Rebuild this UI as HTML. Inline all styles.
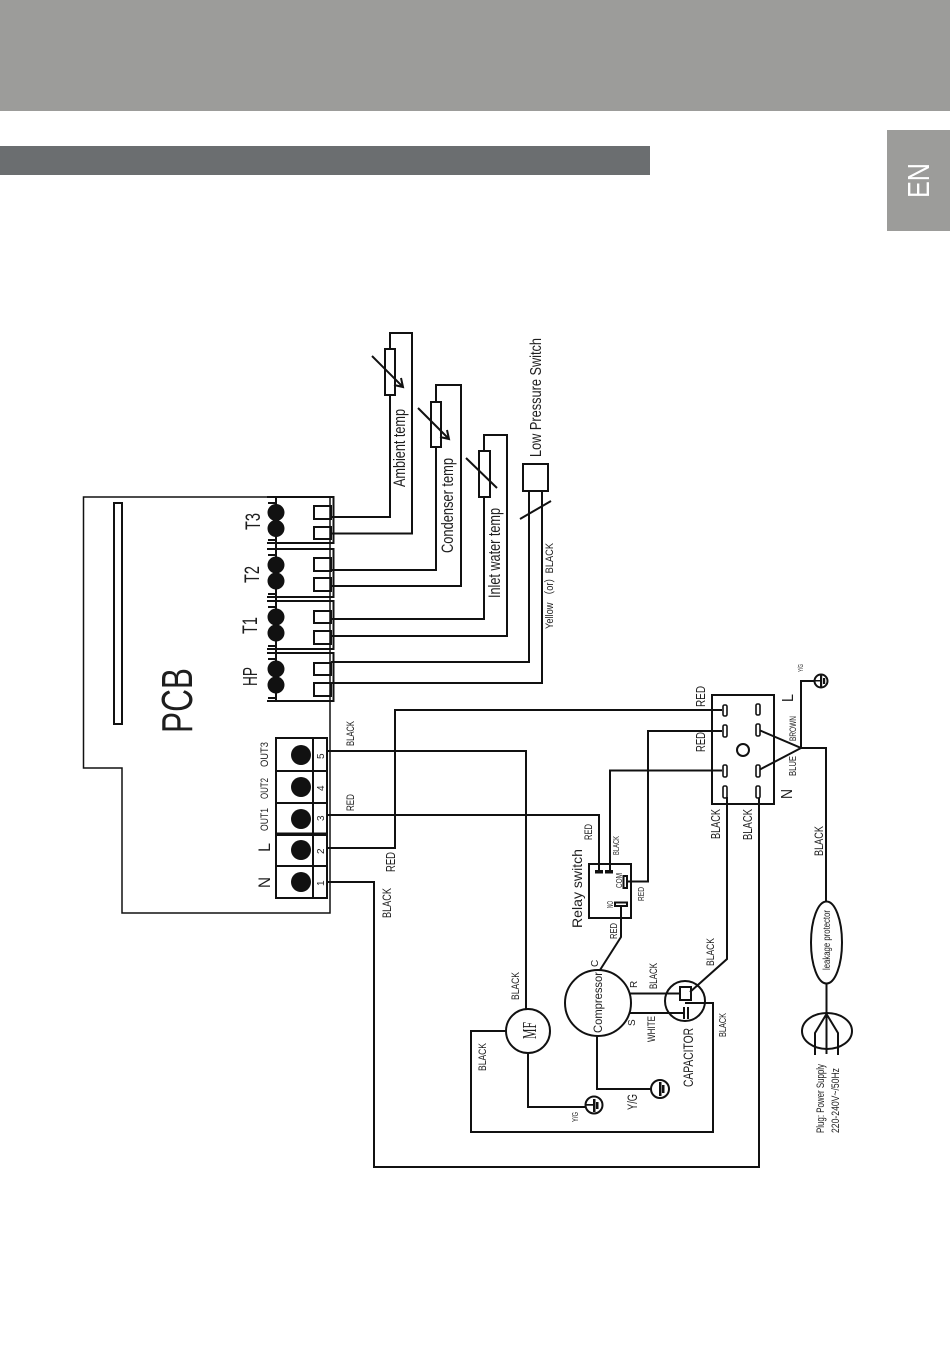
<!DOCTYPE html>
<html><head><meta charset="utf-8"><style>
html,body{margin:0;padding:0;background:#fff}
svg{display:block}
.w{fill:none;stroke:#111;stroke-width:2;stroke-linejoin:miter}
.p{fill:#fff;stroke:#111;stroke-width:1.6}
.t{fill:#111;stroke:none}
text{font-family:"Liberation Sans",sans-serif;fill:#1e1e1e}
</style></head><body>
<svg xmlns="http://www.w3.org/2000/svg" width="950" height="1348" viewBox="0 0 950 1348">
<rect width="950" height="1348" fill="#fff"/>
<rect x="0" y="0" width="950" height="111" fill="#9c9c9a"/>
<rect x="0" y="146" width="650" height="29" fill="#6b6e70"/>
<rect x="887" y="130" width="63" height="101" fill="#9c9c9a"/>
<text transform="translate(929,198) rotate(-90)" font-size="31" textLength="35" lengthAdjust="spacingAndGlyphs" style="fill:#fff">EN</text>

<g class="w">
<!-- PCB outline -->
<path d="M330,497H83.500V768H122V913H330V497" stroke-width="1.500"/>
<rect x="114" y="503" width="8" height="221"/>
<!-- sensor connectors -->
<path d="M267,497H333.500V543H267M268,503H276M268,540H276"/>
<path d="M267,549H333.500V597H267M268,555H276M268,594H276"/>
<path d="M267,601H333.500V649H267M268,607H276M268,646H276"/>
<path d="M267,653H333.500V701H267M268,659H276M268,698H276"/>
<path d="M276,497V701"/>
<rect x="314" y="506" width="17" height="13"/><rect x="314" y="527" width="17" height="12"/>
<rect x="314" y="558" width="17" height="13"/><rect x="314" y="578" width="17" height="13"/>
<rect x="314" y="611" width="17" height="12"/><rect x="314" y="631" width="17" height="13"/>
<rect x="314" y="663" width="17" height="12"/><rect x="314" y="683" width="17" height="13"/>
<!-- sensor wires -->
<path d="M331,517H390V333H412V533.500H331"/>
<rect x="385" y="349" width="10" height="46" fill="#fff"/>
<path d="M331,570H436V385H461V586H331"/>
<rect x="431" y="402" width="10" height="45" fill="#fff"/>
<path d="M331,619H484V435H507V636H331"/>
<rect x="479" y="451" width="11" height="46" fill="#fff"/>
<path d="M372,356L403,387M394,385L403,387L401,378"/>
<path d="M418,408L449,439M440,437L449,439L447,430"/>
<path d="M466,458L497,488"/>
<rect x="523" y="464" width="25" height="27"/>
<path d="M331,662H529V491M331,683H542V491"/>
<path d="M520,519L551,501"/>
<!-- terminal block -->
<rect x="276" y="738" width="51" height="160"/>
<path d="M276,771H327M276,803H327M276,833.500H327M276,835H327M276,866H327M313,738V898"/>
<!-- power wires -->
<path d="M327,751H526V1009"/>
<path d="M327,815H599V870"/>
<path d="M327,848H395V710H722"/>
<path d="M327,882H374V1167H759V797"/>
<path d="M722,731H648V881.500H626"/>
<path d="M722,770.500H610V870"/>
<!-- switch box -->
<rect x="712" y="695" width="62" height="109"/>
<circle cx="743" cy="750" r="6"/>
<path d="M759,730L801,748L759,770M801,748V681H815M801,748H826V902"/>
<path d="M826.500,983V1054M826.500,1014L815,1033V1055M826.500,1014L838,1033V1055"/>
<ellipse cx="826.500" cy="942.500" rx="15.500" ry="41"/>
<ellipse cx="827" cy="1031" rx="25" ry="18"/>
<path d="M727,797V959L690,992"/>
<!-- relay -->
<rect x="589" y="864" width="42" height="54"/>
<rect x="623.500" y="876" width="3.500" height="12"/>
<rect x="615" y="902.500" width="12" height="3.500"/>
<path d="M621,906V937L600,970"/>
<!-- compressor -->
<circle cx="598" cy="1003" r="33"/>
<circle cx="528" cy="1031" r="22"/>
<circle cx="685" cy="1001" r="20"/>
<rect x="680" y="987" width="11" height="13"/>
<path d="M630,993.500H680M629,1013H684M684,1007V1019M688,1007V1019"/>
<path d="M685,1003H713V1132H471V1031H506"/>
<path d="M528,1053V1107H586M597,1036V1089H651"/>
<!-- grounds -->
<circle cx="594" cy="1105" r="8.500"/>
<circle cx="660" cy="1089" r="9"/>
<circle cx="821" cy="681" r="6.500"/>
</g>
<g class="p">
<rect x="723" y="705" width="4" height="11" rx="1.500"/><rect x="723" y="725" width="4" height="12" rx="1.500"/>
<rect x="723" y="765" width="4" height="12" rx="1.500"/><rect x="723" y="786" width="4" height="12" rx="1.500"/>
<rect x="756" y="704" width="4" height="11" rx="1.500"/><rect x="756" y="724" width="4" height="12" rx="1.500"/>
<rect x="756" y="765" width="4" height="12" rx="1.500"/><rect x="756" y="786" width="4" height="12" rx="1.500"/>
</g>
<g class="t">
<circle cx="276" cy="512.500" r="8.500"/><circle cx="276" cy="528.500" r="8.500"/>
<circle cx="276" cy="565" r="8.500"/><circle cx="276" cy="581" r="8.500"/>
<circle cx="276" cy="617" r="8.500"/><circle cx="276" cy="633" r="8.500"/>
<circle cx="276" cy="669" r="8.500"/><circle cx="276" cy="685" r="8.500"/>
<circle cx="301" cy="755" r="10"/><circle cx="301" cy="787" r="10"/><circle cx="301" cy="819" r="10"/><circle cx="301" cy="850" r="10"/><circle cx="301" cy="882" r="10"/>
<rect x="595" y="870" width="8" height="3.500"/><rect x="605" y="870" width="8" height="3.500"/>
<rect x="593" y="1099" width="2.500" height="13"/><rect x="596" y="1102" width="2.500" height="7"/><rect x="586" y="1104" width="7" height="1.700"/>
<rect x="659" y="1082" width="2.500" height="14"/><rect x="662" y="1085" width="2.500" height="8"/>
<rect x="820" y="675" width="2.200" height="12"/><rect x="823" y="678" width="2.200" height="6"/><rect x="814" y="680" width="6" height="1.500"/>
</g>

<!-- labels -->
<g>
<text transform="translate(192,733) rotate(-90)" font-size="44" textLength="65" lengthAdjust="spacingAndGlyphs">PCB</text>
<text transform="translate(260,530) rotate(-90)" font-size="21" textLength="17" lengthAdjust="spacingAndGlyphs">T3</text>
<text transform="translate(259,583) rotate(-90)" font-size="21" textLength="17" lengthAdjust="spacingAndGlyphs">T2</text>
<text transform="translate(257,634) rotate(-90)" font-size="21" textLength="17" lengthAdjust="spacingAndGlyphs">T1</text>
<text transform="translate(257,686) rotate(-90)" font-size="20" textLength="19" lengthAdjust="spacingAndGlyphs">HP</text>
<text transform="translate(270,888) rotate(-90)" font-size="17" textLength="11" lengthAdjust="spacingAndGlyphs">N</text>
<text transform="translate(270,852) rotate(-90)" font-size="17" textLength="9" lengthAdjust="spacingAndGlyphs">L</text>
<text transform="translate(268,767) rotate(-90)" font-size="11" textLength="25" lengthAdjust="spacingAndGlyphs">OUT3</text>
<text transform="translate(268,799) rotate(-90)" font-size="11" textLength="21" lengthAdjust="spacingAndGlyphs">OUT2</text>
<text transform="translate(268,831) rotate(-90)" font-size="11" textLength="23" lengthAdjust="spacingAndGlyphs">OUT1</text>
<text transform="translate(324,759) rotate(-90)" font-size="10">5</text>
<text transform="translate(324,791) rotate(-90)" font-size="10">4</text>
<text transform="translate(324,821) rotate(-90)" font-size="10">3</text>
<text transform="translate(324,854) rotate(-90)" font-size="10">2</text>
<text transform="translate(324,886) rotate(-90)" font-size="10">1</text>
<text transform="translate(354,746) rotate(-90)" font-size="11" textLength="25" lengthAdjust="spacingAndGlyphs">BLACK</text>
<text transform="translate(354,811) rotate(-90)" font-size="11" textLength="17" lengthAdjust="spacingAndGlyphs">RED</text>
<text transform="translate(395,872) rotate(-90)" font-size="13" textLength="20" lengthAdjust="spacingAndGlyphs">RED</text>
<text transform="translate(391,918) rotate(-90)" font-size="12" textLength="30" lengthAdjust="spacingAndGlyphs">BLACK</text>
<text transform="translate(405,487) rotate(-90)" font-size="17" textLength="78" lengthAdjust="spacingAndGlyphs">Ambient temp</text>
<text transform="translate(453,553) rotate(-90)" font-size="17" textLength="95" lengthAdjust="spacingAndGlyphs">Condenser temp</text>
<text transform="translate(500,598) rotate(-90)" font-size="17" textLength="90" lengthAdjust="spacingAndGlyphs">Inlet water temp</text>
<text transform="translate(541,457) rotate(-90)" font-size="16" textLength="119" lengthAdjust="spacingAndGlyphs">Low Pressure Switch</text>
<text transform="translate(553,629) rotate(-90)" font-size="11" textLength="86" lengthAdjust="spacingAndGlyphs">Yellow （or）BLACK</text>
<text transform="translate(705,707) rotate(-90)" font-size="13" textLength="21" lengthAdjust="spacingAndGlyphs">RED</text>
<text transform="translate(705,752) rotate(-90)" font-size="13" textLength="20" lengthAdjust="spacingAndGlyphs">RED</text>
<text transform="translate(793,702) rotate(-90)" font-size="16" textLength="8" lengthAdjust="spacingAndGlyphs">L</text>
<text transform="translate(792,799) rotate(-90)" font-size="16" textLength="10" lengthAdjust="spacingAndGlyphs">N</text>
<text transform="translate(796,741) rotate(-90)" font-size="9" textLength="25" lengthAdjust="spacingAndGlyphs">BROWN</text>
<text transform="translate(796,776) rotate(-90)" font-size="10" textLength="20" lengthAdjust="spacingAndGlyphs">BLUE</text>
<text transform="translate(720,839) rotate(-90)" font-size="13" textLength="30" lengthAdjust="spacingAndGlyphs">BLACK</text>
<text transform="translate(752,840) rotate(-90)" font-size="13" textLength="31" lengthAdjust="spacingAndGlyphs">BLACK</text>
<text transform="translate(823,856) rotate(-90)" font-size="12" textLength="30" lengthAdjust="spacingAndGlyphs">BLACK</text>
<text transform="translate(592,840) rotate(-90)" font-size="11" textLength="16" lengthAdjust="spacingAndGlyphs">RED</text>
<text transform="translate(619,855) rotate(-90)" font-size="8" textLength="19" lengthAdjust="spacingAndGlyphs">BLACK</text>
<text transform="translate(582,928) rotate(-90)" font-size="14" textLength="79" lengthAdjust="spacingAndGlyphs">Relay switch</text>
<text transform="translate(622,888) rotate(-90)" font-size="8" textLength="15" lengthAdjust="spacingAndGlyphs">COM</text>
<text transform="translate(613,908) rotate(-90)" font-size="8" textLength="7" lengthAdjust="spacingAndGlyphs">NO</text>
<text transform="translate(644,901) rotate(-90)" font-size="8" textLength="14" lengthAdjust="spacingAndGlyphs">RED</text>
<text transform="translate(617,939) rotate(-90)" font-size="10" textLength="16" lengthAdjust="spacingAndGlyphs">RED</text>
<text transform="translate(803,672) rotate(-90)" font-size="7" textLength="8" lengthAdjust="spacingAndGlyphs">Y/G</text>
<text transform="translate(519,1000) rotate(-90)" font-size="11" textLength="28" lengthAdjust="spacingAndGlyphs">BLACK</text>
<text transform="translate(598,967) rotate(-90)" font-size="10">C</text>
<text transform="translate(637,988) rotate(-90)" font-size="10">R</text>
<text transform="translate(635,1026) rotate(-90)" font-size="10">S</text>
<text transform="translate(602,1033) rotate(-90)" font-size="12" textLength="61" lengthAdjust="spacingAndGlyphs">Compressor</text>
<text transform="translate(657,989) rotate(-90)" font-size="11" textLength="26" lengthAdjust="spacingAndGlyphs">BLACK</text>
<text transform="translate(655,1042) rotate(-90)" font-size="11" textLength="26" lengthAdjust="spacingAndGlyphs">WHITE</text>
<text transform="translate(714,966) rotate(-90)" font-size="11" textLength="28" lengthAdjust="spacingAndGlyphs">BLACK</text>
<text transform="translate(726,1037) rotate(-90)" font-size="10" textLength="24" lengthAdjust="spacingAndGlyphs">BLACK</text>
<text transform="translate(693,1087) rotate(-90)" font-size="14" textLength="59" lengthAdjust="spacingAndGlyphs">CAPACITOR</text>
<text transform="translate(486,1071) rotate(-90)" font-size="11" textLength="28" lengthAdjust="spacingAndGlyphs">BLACK</text>
<text transform="translate(536,1039) rotate(-90)" font-size="20" textLength="17" lengthAdjust="spacingAndGlyphs" style="font-family:'Liberation Serif',serif">MF</text>
<text transform="translate(637,1110) rotate(-90)" font-size="14" textLength="16" lengthAdjust="spacingAndGlyphs">Y/G</text>
<text transform="translate(578,1122) rotate(-90)" font-size="8" textLength="10" lengthAdjust="spacingAndGlyphs">Y/G</text>
<text transform="translate(830,970) rotate(-90)" font-size="10" textLength="60" lengthAdjust="spacingAndGlyphs">leakage protector</text>
<text transform="translate(824,1133) rotate(-90)" font-size="11" textLength="69" lengthAdjust="spacingAndGlyphs">Plug: Power Supply</text>
<text transform="translate(839,1133) rotate(-90)" font-size="11" textLength="65" lengthAdjust="spacingAndGlyphs">220-240V~/50Hz</text>
</g>
</svg>
</body></html>
